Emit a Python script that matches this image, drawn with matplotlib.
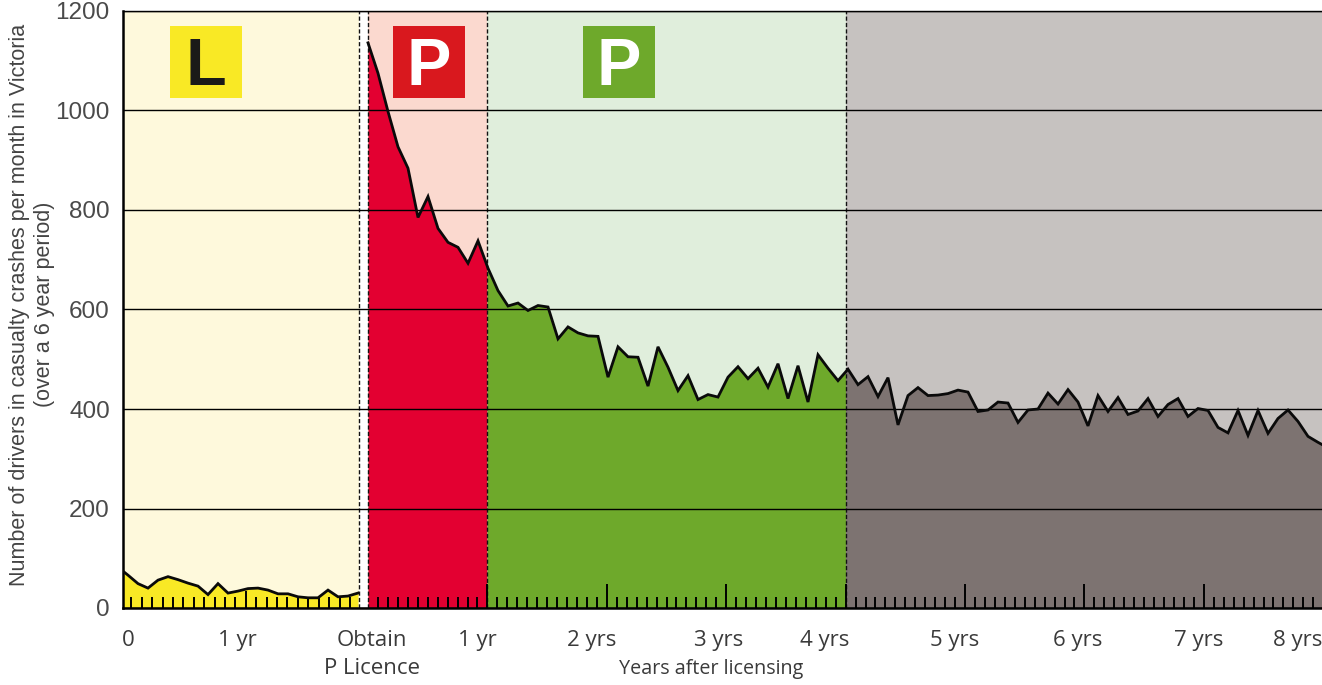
import matplotlib
matplotlib.use('Agg')
import matplotlib.pyplot as plt
from matplotlib.patches import Rectangle
import numpy as np

# months relative to getting the P licence
learner_months = np.arange(-25, 0)
learner_crashes = [82, 66, 49, 40, 56, 63, 57, 50, 44, 27, 49, 30, 34, 39, 40, 36, 28.5, 28.5, 22.5, 20.5, 20.5, 36, 22.5, 24, 30]

red_crashes = [1136, 1075, 998, 927, 884, 785, 827, 763, 735, 725, 693, 738, 683]
green_crashes = [683, 638, 607, 613, 598, 608, 605, 541, 565, 553, 547, 546, 464, 525, 505, 504, 446, 525, 484, 437,
                 467, 419, 429, 424, 464, 485, 461, 482, 444, 491, 421, 487, 414, 509, 482, 457, 480]
grey_crashes = [480, 449, 465, 425, 463, 368, 427, 443, 427, 428, 431, 438, 434, 395, 398, 414, 412, 373, 398, 400,
                432, 410, 439, 414, 366, 427, 395, 423, 389, 396, 421, 385, 409, 421, 385, 401, 397, 363, 352, 397,
                347, 397, 351, 381, 398, 375, 345, 333, 322]
red_months = np.arange(0, 13)
green_months = np.arange(12, 49)
grey_months = np.arange(48, 97)

y_ticks = [0, 200, 400, 600, 800, 1000, 1200]

col_bg = ['#FEF9DC', '#FBD9CF', '#E0EEDC', '#C6C2C0']
col_fill = ['#F9E925', '#E30031', '#6EA92B', '#7D7371']
col_text = '#3a3a3a'

fig = plt.figure(figsize=(13.22, 6.85), dpi=100)
ax = fig.add_axes([123 / 1322, 1 - 608 / 685, 1199 / 1322, 597 / 685])
ax.set_xlim(-24.5, 95.4)
ax.set_ylim(0, 1200)

# background bands
ax.axvspan(-24.5, -0.9, color=col_bg[0], lw=0, zorder=0)
ax.axvspan(0, 11.9, color=col_bg[1], lw=0, zorder=0)
ax.axvspan(11.9, 47.75, color=col_bg[2], lw=0, zorder=0)
ax.axvspan(47.75, 95.4, color=col_bg[3], lw=0, zorder=0)

# filled areas
ax.fill_between(learner_months, learner_crashes, color=col_fill[0], lw=0, zorder=1)
ax.fill_between(red_months[:12].tolist() + [11.9], red_crashes[:12] + [686], color=col_fill[1], lw=0, zorder=1)
ax.fill_between([11.9] + green_months[1:].tolist(), [686] + green_crashes[1:], color=col_fill[2], lw=0, zorder=1)
ax.fill_between([47.75] + grey_months.tolist(), [478] + grey_crashes, color=col_fill[3], lw=0, zorder=1)

ax.set_yticks(y_ticks)
ax.yaxis.grid(True, color='black', lw=1)
ax.set_axisbelow(False)
for gl in ax.yaxis.get_gridlines():
    gl.set_zorder(2)

for xv in [-0.9, 0.0, 11.9, 47.75]:
    ax.axvline(xv, color='#111111', lw=1, dashes=(3, 1.6), zorder=2)

# crash line
ax.plot(learner_months, learner_crashes, color='#0a0a0a', lw=2, zorder=3, solid_joinstyle='miter')
ax.plot(np.concatenate([red_months, green_months[1:], grey_months[1:]]),
        red_crashes + green_crashes[1:] + grey_crashes[1:],
        color='#0a0a0a', lw=2, zorder=3, solid_joinstyle='miter')

# ticks along the bottom
learner_ticks = -23.67 + 1.041 * np.arange(22)
licence_ticks = 0.995 * np.arange(1, 96)
major = licence_ticks[11::12]
minor = np.concatenate([learner_ticks, np.delete(licence_ticks, np.arange(11, 95, 12))])
ax.set_xticks(np.concatenate([[learner_ticks[11]], major]))
ax.set_xticks(minor, minor=True)
ax.set_xticklabels([])
ax.tick_params(axis='x', which='major', direction='in', length=17, width=1.4, color='black')
ax.tick_params(axis='x', which='minor', direction='in', length=8, width=1.4, color='black')
ax.xaxis.get_major_ticks()[0].tick1line.set_markersize(12)
ax.tick_params(axis='y', length=0, pad=9.5, labelsize=17.5, labelcolor='#4a4a4a')
for lab in ax.get_yticklabels():
    lab.set_fontfamily('Liberation Sans')

ax.spines['right'].set_visible(False)
ax.spines['left'].set_linewidth(1.8)
ax.spines['bottom'].set_linewidth(1.8)
ax.spines['top'].set_linewidth(1)

ax.set_ylabel('Number of drivers in casualty crashes per month in Victoria\n(over a 6 year period)',
              fontsize=15.5, family='Liberation Sans', color='#444444', linespacing=1.25)
ax.yaxis.set_label_coords(-0.0565, 0.508)

# x labels, placed by hand because they sit off the ticks
x_font = dict(family='Open Sans', color=col_text, transform=ax.get_xaxis_transform(), ha='center', va='center')
for xv, txt in zip([-24, -13.1, 0.4, 10.9, 22.4, 35.1, 45.7, 58.7, 71, 83.1, 93],
                   ['0', '1 yr', 'Obtain', '1 yr', '2 yrs', '3 yrs', '4 yrs', '5 yrs', '6 yrs', '7 yrs', '8 yrs']):
    ax.text(xv, -0.054, txt, fontsize=16, **x_font)
ax.text(0.4, -0.102, 'P Licence', fontsize=16, **x_font)
ax.text(34.3, -0.102, 'Years after licensing', fontsize=14.2, **x_font)

# licence plates
for xv, col, letter, tcol in [(-19.8, col_fill[0], 'L', '#1a1a18'), (2.5, '#D9181E', 'P', 'white'), (21.5, col_fill[2], 'P', 'white')]:
    ax.add_patch(Rectangle((xv, 1025), 7.2, 145, color=col, lw=0, zorder=4))
    ax.text(xv + 3.6, 1099, letter, color=tcol, fontsize=48, fontweight='bold', family='Liberation Sans',
            ha='center', va='center_baseline', zorder=5)

fig.savefig('out.png', dpi=100)
